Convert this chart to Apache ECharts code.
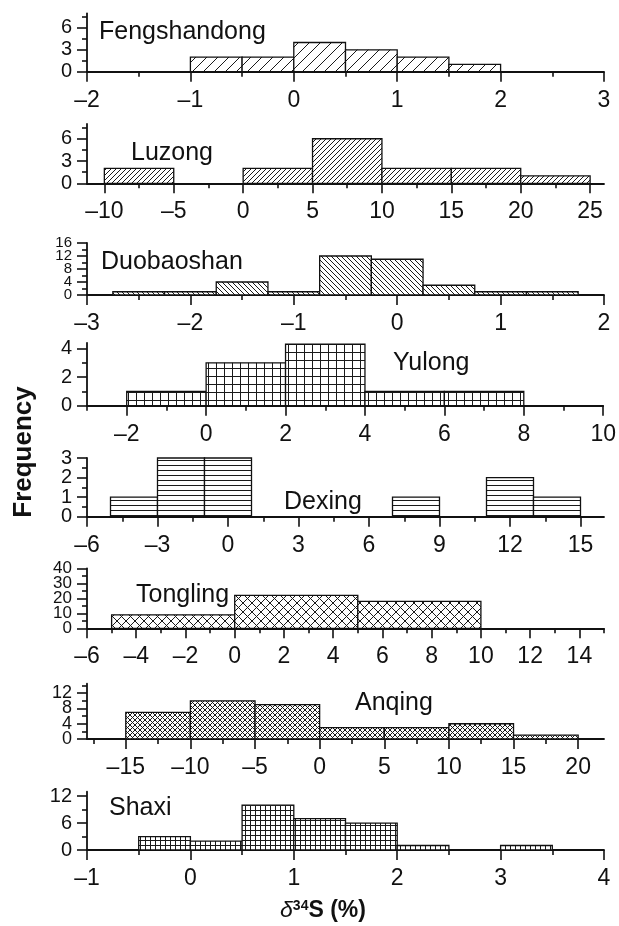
<!DOCTYPE html>
<html>
<head>
<meta charset="utf-8">
<title>δ34S histograms</title>
<script src="https://cdn.jsdelivr.net/npm/echarts@6/dist/echarts.min.js"></script>
<style>
  html, body { margin: 0; padding: 0; background: #fff; }
  #chart { width: 619px; height: 926px; }
</style>
</head>
<body>
<div id="chart"></div>
<script>
// ---- data (bin edges / counts / tick values) ----
const fengshandongEdges = [-1, -0.5, 0, 0.5, 1, 1.5, 2];
const fengshandongCounts = [2, 2, 4, 3, 2, 1];
const fengshandongXTicks = [-2, -1, 0, 1, 2, 3];
const fengshandongYTicks = [0, 3, 6];

const luzongEdges = [-10, -5, 0, 5, 10, 15, 20, 25];
const luzongCounts = [2, 0, 2, 6, 2, 2, 1];
const luzongXTicks = [-10, -5, 0, 5, 10, 15, 20, 25];
const luzongYTicks = [0, 3, 6];

const duobaoshanEdges = [-2.75, -2.25, -1.75, -1.25, -0.75, -0.25, 0.25, 0.75, 1.25, 1.75];
const duobaoshanCounts = [1, 1, 4, 1, 12, 11, 3, 1, 1];
const duobaoshanXTicks = [-3, -2, -1, 0, 1, 2];
const duobaoshanYTicks = [0, 4, 8, 12, 16];

const yulongEdges = [-2, 0, 2, 4, 6, 8];
const yulongCounts = [1, 3, 4.3, 1, 1];
const yulongXTicks = [-2, 0, 2, 4, 6, 8, 10];
const yulongYTicks = [0, 2, 4];

const dexingEdges = [-5, -3, -1, 1, 3, 5, 7, 9, 11, 13, 15];
const dexingCounts = [1, 3, 3, 0, 0, 0, 1, 0, 2, 1];
const dexingXTicks = [-6, -3, 0, 3, 6, 9, 12, 15];
const dexingYTicks = [0, 1, 2, 3];

const tonglingEdges = [-5, 0, 5, 10];
const tonglingCounts = [9, 22, 18];
const tonglingXTicks = [-6, -4, -2, 0, 2, 4, 6, 8, 10, 12, 14];
const tonglingYTicks = [0, 10, 20, 30, 40];

const anqingEdges = [-15, -10, -5, 0, 5, 10, 15, 20];
const anqingCounts = [7, 10, 9, 3, 3, 4, 1];
const anqingXTicks = [-15, -10, -5, 0, 5, 10, 15, 20];
const anqingYTicks = [0, 4, 8, 12];

const shaxiEdges = [-0.5, 0, 0.5, 1, 1.5, 2, 2.5, 3, 3.5];
const shaxiCounts = [3, 2, 10, 7, 6, 1, 0, 1];
const shaxiXTicks = [-1, 0, 1, 2, 3, 4];
const shaxiYTicks = [0, 6, 12];

// ---- layout per panel ----
const FONT = '"Liberation Sans", Arial, sans-serif';
const gridLeft = 87;
const gridWidth = 517;

const panels = [
  { name: 'Fengshandong', edges: fengshandongEdges, counts: fengshandongCounts, xTicks: fengshandongXTicks, yTicks: fengshandongYTicks,
    xMin: -2, xMax: 3, xStep: 0.5, yMax: 8, yStep: 1.5, top: 13.3, height: 58.4, yFont: 20, pattern: 'slashWide', label: [99, 31.7] },
  { name: 'Luzong', edges: luzongEdges, counts: luzongCounts, xTicks: luzongXTicks, yTicks: luzongYTicks,
    xMin: -11.25, xMax: 26, xStep: 2.5, yMax: 8, yStep: 1.5, top: 123.9, height: 59.4, yFont: 20, pattern: 'slash', label: [131, 153.3] },
  { name: 'Duobaoshan', edges: duobaoshanEdges, counts: duobaoshanCounts, xTicks: duobaoshanXTicks, yTicks: duobaoshanYTicks,
    xMin: -3, xMax: 2, xStep: 0.5, yMax: 16, yStep: 2, top: 243, height: 52, yFont: 15, pattern: 'backslash', label: [101, 261.7] },
  { name: 'Yulong', edges: yulongEdges, counts: yulongCounts, xTicks: yulongXTicks, yTicks: yulongYTicks,
    xMin: -3, xMax: 10, xStep: 1, yMax: 4.4, yStep: 1, top: 342.8, height: 62.9, yFont: 20, pattern: 'grid', label: [393, 363.4] },
  { name: 'Dexing', edges: dexingEdges, counts: dexingCounts, xTicks: dexingXTicks, yTicks: dexingYTicks,
    xMin: -6, xMax: 16, xStep: 1.5, yMax: 3, yStep: 0.5, top: 458, height: 58.7, yFont: 20, pattern: 'hlines', label: [284, 501.7] },
  { name: 'Tongling', edges: tonglingEdges, counts: tonglingCounts, xTicks: tonglingXTicks, yTicks: tonglingYTicks,
    xMin: -6, xMax: 15, xStep: 1, yMax: 40, yStep: 5, top: 568.3, height: 60, yFont: 17, pattern: 'cross', label: [136, 595] },
  { name: 'Anqing', edges: anqingEdges, counts: anqingCounts, xTicks: anqingXTicks, yTicks: anqingYTicks,
    xMin: -18, xMax: 22, xStep: 2.5, yMax: 14.5, yStep: 2, top: 683.7, height: 55.3, yFont: 18, pattern: 'crossFine', label: [355, 703] },
  { name: 'Shaxi', edges: shaxiEdges, counts: shaxiCounts, xTicks: shaxiXTicks, yTicks: shaxiYTicks,
    xMin: -1, xMax: 4, xStep: 0.5, yMax: 13, yStep: 3, top: 791.7, height: 58.3, yFont: 20, pattern: 'gridFine', label: [109, 808] }
];

// minor tick positions: every step inside the axis range that is not a major tick
function minorTicks(min, max, step, major) {
  const out = [];
  const start = Math.ceil(min / step - 1e-9) * step;
  for (let v = start; v <= max + 1e-9; v += step) {
    const r = Math.round(v * 1000) / 1000;
    if (!major.some(m => Math.abs(m - r) < 1e-6)) out.push(r);
  }
  return out;
}

// hatch fills
function makePattern(kind) {
  const sizes = { slashWide: 11, slash: 5, backslash: 5, grid: 8, hlines: 5, cross: 9, crossFine: 5, gridFine: 5 };
  const s = sizes[kind];
  const c = document.createElement('canvas');
  c.width = s; c.height = s;
  const ctx = c.getContext('2d');
  ctx.fillStyle = '#fff';
  ctx.fillRect(0, 0, s, s);
  ctx.strokeStyle = '#1a1a1a';
  ctx.lineWidth = 1;
  ctx.beginPath();
  const slash = () => {
    ctx.moveTo(0, s); ctx.lineTo(s, 0);
    ctx.moveTo(-1, 1); ctx.lineTo(1, -1);
    ctx.moveTo(s - 1, s + 1); ctx.lineTo(s + 1, s - 1);
  };
  const back = () => {
    ctx.moveTo(0, 0); ctx.lineTo(s, s);
    ctx.moveTo(-1, s - 1); ctx.lineTo(1, s + 1);
    ctx.moveTo(s - 1, -1); ctx.lineTo(s + 1, 1);
  };
  if (kind === 'slashWide' || kind === 'slash') slash();
  if (kind === 'backslash') back();
  if (kind === 'cross' || kind === 'crossFine') { slash(); back(); }
  if (kind === 'grid' || kind === 'gridFine') {
    ctx.moveTo(0, 0.5); ctx.lineTo(s, 0.5);
    ctx.moveTo(0.5, 0); ctx.lineTo(0.5, s);
  }
  if (kind === 'hlines') { ctx.moveTo(0, 0.5); ctx.lineTo(s, 0.5); }
  ctx.stroke();
  return { image: c, repeat: 'repeat' };
}

function fmt(v) {
  return v < 0 ? '\u2013' + Math.abs(v) : String(v);
}

const grid = [], xAxis = [], yAxis = [], series = [], graphic = [];

panels.forEach((p, i) => {
  grid.push({ left: gridLeft, width: gridWidth, top: p.top, height: p.height });

  const xMinor = minorTicks(p.xMin, p.xMax, p.xStep, p.xTicks);
  const yMinor = minorTicks(0, p.yMax, p.yStep, p.yTicks);

  // major x axis (with labels)
  const xIndex = xAxis.length;
  xAxis.push({
    type: 'value', gridIndex: i, position: 'bottom', min: p.xMin, max: p.xMax,
    axisLine: { show: true, onZero: false, lineStyle: { color: '#111', width: 1.8 } },
    axisTick: { show: true, customValues: p.xTicks, length: 10, lineStyle: { color: '#111', width: 1.6 } },
    axisLabel: { customValues: p.xTicks, formatter: fmt, margin: 17, fontSize: 23, color: '#111', fontFamily: FONT,
      hideOverlap: false, showMinLabel: true, showMaxLabel: true },
    splitLine: { show: false }
  });
  // minor x ticks
  xAxis.push({
    type: 'value', gridIndex: i, position: 'bottom', min: p.xMin, max: p.xMax,
    axisLine: { show: false, onZero: false },
    axisTick: { show: true, customValues: xMinor, length: 5, lineStyle: { color: '#111', width: 1.6 } },
    axisLabel: { show: false },
    splitLine: { show: false }
  });

  // y labels are packed tightly in the original; split them over two
  // overlaid axes so the library does not drop any of them
  const yIndex = yAxis.length;
  [0, 1].forEach(part => {
    const vals = p.yTicks.filter((v, k) => k % 2 === part);
    yAxis.push({
      type: 'value', gridIndex: i, position: 'left', min: 0, max: p.yMax,
      axisLine: { show: part === 0, onZero: false, lineStyle: { color: '#111', width: 1.8 } },
      axisTick: { show: true, customValues: vals, length: 10, lineStyle: { color: '#111', width: 1.6 } },
      axisLabel: { customValues: vals, margin: 15, fontSize: p.yFont, color: '#111', fontFamily: FONT,
        hideOverlap: false, showMinLabel: true, showMaxLabel: true },
      splitLine: { show: false }
    });
  });
  yAxis.push({
    type: 'value', gridIndex: i, position: 'left', min: 0, max: p.yMax,
    axisLine: { show: false, onZero: false },
    axisTick: { show: true, customValues: yMinor, length: 5, lineStyle: { color: '#111', width: 1.6 } },
    axisLabel: { show: false },
    splitLine: { show: false }
  });

  const bins = [];
  p.counts.forEach((c, k) => {
    if (c > 0) bins.push([p.edges[k], p.edges[k + 1], c]);
  });
  const fill = makePattern(p.pattern);

  series.push({
    type: 'custom',
    name: p.name,
    xAxisIndex: xIndex,
    yAxisIndex: yIndex,
    data: bins,
    encode: { x: [0, 1], y: 2 },
    clip: false,
    silent: true,
    renderItem: function (params, api) {
      const topLeft = api.coord([api.value(0), api.value(2)]);
      const bottomRight = api.coord([api.value(1), 0]);
      return {
        type: 'rect',
        shape: {
          x: topLeft[0], y: topLeft[1],
          width: bottomRight[0] - topLeft[0],
          height: bottomRight[1] - topLeft[1]
        },
        style: { fill: fill, stroke: '#111', lineWidth: 1.3 }
      };
    }
  });

  graphic.push({
    type: 'text', x: p.label[0], y: p.label[1], silent: true,
    style: { text: p.name, fill: '#111', font: '25px ' + FONT, align: 'left', verticalAlign: 'middle' }
  });
});

// axis titles
graphic.push({
  type: 'text', x: 24, y: 452, rotation: Math.PI / 2, silent: true,
  style: { text: 'Frequency', fill: '#111', font: 'bold 26px ' + FONT, align: 'center', verticalAlign: 'middle' }
});
graphic.push({
  type: 'text', x: 323, y: 911, silent: true,
  style: {
    text: '{d|δ}{s|34}{b|S (%)}',
    align: 'center', verticalAlign: 'middle',
    rich: {
      d: { font: 'italic 23px ' + FONT, fill: '#111' },
      s: { font: 'bold 14px ' + FONT, fill: '#111', padding: [0, 0, 10, 0] },
      b: { font: 'bold 23px ' + FONT, fill: '#111' }
    }
  }
});

const chart = echarts.init(document.getElementById('chart'), null, { renderer: 'canvas' });
chart.setOption({
  backgroundColor: '#fff',
  animation: false,
  grid: grid,
  xAxis: xAxis,
  yAxis: yAxis,
  series: series,
  graphic: graphic
});
</script>
</body>
</html>
